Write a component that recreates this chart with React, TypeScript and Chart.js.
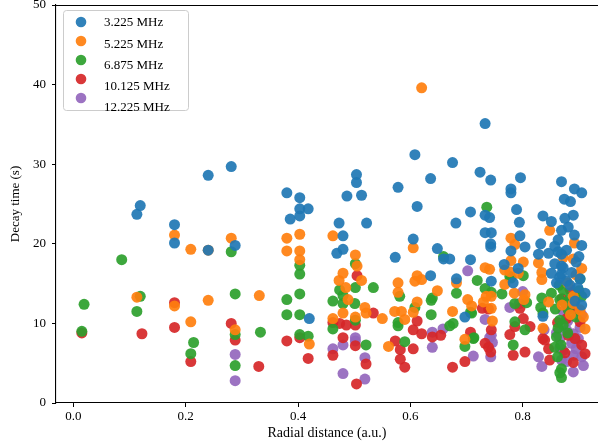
import React, { useEffect, useRef } from "react";
import { Chart, registerables } from "chart.js";

Chart.register(...registerables);

const seriesLabels = ["3.225 MHz", "5.225 MHz", "6.875 MHz", "10.125 MHz", "12.225 MHz"];
const seriesColors = [
  "rgba(31,119,180,0.92)",
  "rgba(255,127,14,0.92)",
  "rgba(44,160,44,0.92)",
  "rgba(214,39,40,0.92)",
  "rgba(148,103,189,0.92)",
];
const xTicks = [0, 0.2, 0.4, 0.6, 0.8];
const yTicks = [0, 10, 20, 30, 40, 50];

type P = [number, number];

const blue: P[] = [
  [0.113, 23.7], [0.119, 24.8], [0.18, 22.4], [0.18, 20.1], [0.24, 28.6], [0.281, 29.7], [0.288, 19.8], [0.24, 19.2],
  [0.38, 26.4], [0.403, 25.8], [0.403, 24.4], [0.418, 24.4], [0.386, 23.1], [0.403, 23.5], [0.42, 10.6],
  [0.473, 22.6], [0.48, 21.0], [0.48, 19.3], [0.469, 18.8],
  [0.487, 26.0], [0.504, 28.7], [0.504, 27.7], [0.513, 26.1], [0.522, 22.6],
  [0.578, 27.1], [0.608, 31.2], [0.612, 24.7], [0.636, 28.2], [0.605, 20.6], [0.573, 18.3], [0.636, 16.0],
  [0.648, 19.4], [0.659, 18.1], [0.67, 18.1], [0.675, 30.2], [0.681, 22.6], [0.682, 15.6], [0.697, 10.8],
  [0.707, 24.0], [0.707, 18.0], [0.724, 29.0], [0.733, 35.1], [0.733, 23.6], [0.741, 23.3], [0.733, 21.4], [0.744, 21.4],
  [0.743, 20.0], [0.743, 19.6], [0.743, 28.0], [0.744, 15.3],
  [0.767, 17.4], [0.779, 26.9], [0.779, 26.4], [0.779, 19.1], [0.789, 24.3], [0.794, 22.7], [0.795, 21.0], [0.796, 28.3],
  [0.804, 19.6], [0.792, 16.9], [0.783, 15.1],
  [0.828, 18.7], [0.832, 20.0], [0.836, 23.5], [0.836, 10.9], [0.846, 18.8], [0.851, 22.8], [0.851, 16.3], [0.857, 17.5],
  [0.863, 20.5], [0.863, 19.0], [0.869, 27.8], [0.869, 21.7], [0.869, 18.7], [0.869, 17.2], [0.869, 16.2], [0.874, 25.6],
  [0.875, 23.2], [0.881, 22.1], [0.885, 25.3], [0.887, 16.4], [0.89, 23.6], [0.892, 26.9], [0.892, 21.1], [0.905, 26.4],
  [0.905, 19.8], [0.902, 15.6], [0.911, 13.8],
  [0.866, 15.8], [0.878, 15.3], [0.872, 17.0], [0.86, 15.1], [0.884, 14.8], [0.895, 17.7], [0.9, 18.4], [0.878, 19.2],
  [0.857, 19.7], [0.893, 12.8], [0.905, 12.3], [0.898, 14.5],
];

const orange: P[] = [
  [0.113, 13.3], [0.18, 21.1], [0.18, 12.2], [0.209, 19.3], [0.24, 19.2], [0.24, 12.9], [0.281, 20.7], [0.288, 9.2],
  [0.209, 10.2], [0.331, 13.5],
  [0.38, 20.7], [0.403, 21.2], [0.38, 19.1], [0.403, 19.1], [0.403, 18.0], [0.42, 7.4],
  [0.462, 21.0], [0.462, 10.6], [0.473, 15.4], [0.48, 16.3], [0.485, 14.5], [0.489, 13.0], [0.502, 18.6], [0.505, 17.2],
  [0.513, 15.4], [0.502, 10.8], [0.48, 11.3], [0.519, 12.0], [0.521, 11.3], [0.55, 10.6], [0.561, 7.1],
  [0.578, 15.1], [0.578, 13.9], [0.572, 11.5], [0.584, 11.5], [0.59, 10.5], [0.605, 19.5], [0.612, 16.0], [0.608, 15.3],
  [0.62, 15.5], [0.612, 12.7], [0.605, 11.4], [0.62, 39.6],
  [0.648, 14.1], [0.682, 15.1], [0.675, 11.5], [0.697, 8.0], [0.702, 13.0], [0.709, 12.2], [0.73, 12.7], [0.733, 17.0],
  [0.741, 16.8], [0.735, 13.4], [0.744, 13.4], [0.744, 11.9], [0.746, 10.3],
  [0.768, 16.7], [0.777, 16.5], [0.768, 14.9], [0.779, 20.7], [0.786, 19.9], [0.779, 17.9], [0.785, 13.8], [0.792, 16.3],
  [0.801, 17.7], [0.802, 13.0], [0.804, 13.6],
  [0.828, 17.6], [0.834, 16.4], [0.834, 15.5], [0.846, 12.7], [0.848, 21.7], [0.836, 9.4],
  [0.872, 18.3], [0.89, 18.1], [0.892, 20.1], [0.905, 16.9], [0.89, 13.4], [0.89, 12.5], [0.902, 11.7], [0.908, 10.8],
  [0.911, 9.3], [0.88, 15.1], [0.895, 16.1], [0.87, 12.3], [0.885, 11.1],
];

const green: P[] = [
  [0.015, 9.0], [0.019, 12.4], [0.086, 18.0], [0.113, 11.5], [0.119, 13.4], [0.209, 6.2], [0.214, 7.6], [0.281, 19.0],
  [0.288, 13.7], [0.288, 8.6], [0.288, 4.7], [0.333, 8.9],
  [0.38, 13.0], [0.403, 13.7], [0.38, 11.1], [0.403, 11.1], [0.403, 17.3], [0.403, 16.2], [0.403, 8.6], [0.418, 8.4],
  [0.462, 12.8], [0.462, 9.3], [0.474, 14.2], [0.48, 13.5], [0.48, 12.5], [0.501, 12.5], [0.502, 14.5], [0.502, 17.5],
  [0.502, 10.4], [0.521, 7.3], [0.534, 14.5],
  [0.581, 13.4], [0.578, 10.1], [0.578, 9.7], [0.59, 7.7], [0.608, 12.0], [0.637, 12.9], [0.637, 11.1], [0.639, 13.2],
  [0.659, 18.4],
  [0.676, 10.0], [0.67, 9.7], [0.682, 13.8], [0.697, 7.1], [0.707, 11.4], [0.709, 11.3], [0.712, 8.1], [0.713, 8.2],
  [0.719, 15.4], [0.733, 14.4], [0.744, 13.9], [0.736, 24.6],
  [0.763, 13.7], [0.779, 15.7], [0.777, 15.9], [0.783, 7.3], [0.786, 12.5], [0.786, 10.2], [0.801, 16.0], [0.804, 9.2],
  [0.807, 12.6],
  [0.834, 13.2], [0.832, 12.0], [0.836, 11.3], [0.851, 13.8], [0.857, 7.0], [0.863, 9.4], [0.866, 10.4], [0.866, 13.0],
  [0.872, 14.2], [0.881, 11.7], [0.905, 13.4], [0.902, 15.6], [0.869, 4.3], [0.869, 3.2],
  [0.86, 8.3], [0.862, 5.8], [0.868, 7.3], [0.872, 9.8], [0.858, 11.8], [0.865, 14.8], [0.875, 12.6], [0.88, 8.8],
  [0.866, 3.8], [0.895, 10.8], [0.9, 14.1], [0.885, 13.3],
];

const red: P[] = [
  [0.015, 8.8], [0.122, 8.7], [0.18, 12.6], [0.18, 9.5], [0.209, 5.2], [0.281, 10.0], [0.288, 7.9], [0.33, 4.6],
  [0.38, 7.8], [0.403, 8.2], [0.418, 5.6],
  [0.462, 10.1], [0.462, 6.0], [0.474, 10.0], [0.486, 9.8], [0.502, 9.8], [0.48, 8.2], [0.502, 7.2], [0.505, 16.0],
  [0.521, 4.9], [0.504, 2.4], [0.534, 11.3],
  [0.573, 7.8], [0.582, 6.7], [0.582, 5.5], [0.59, 4.5], [0.612, 10.3], [0.605, 9.2], [0.62, 8.7], [0.605, 6.8],
  [0.639, 8.3], [0.654, 8.5], [0.675, 4.5], [0.697, 5.2], [0.707, 8.9], [0.728, 11.9], [0.739, 11.8], [0.744, 9.2],
  [0.733, 7.5], [0.739, 7.0], [0.743, 6.4],
  [0.777, 8.6], [0.786, 9.6], [0.795, 11.9], [0.801, 10.6], [0.813, 9.6], [0.783, 6.0], [0.804, 6.4],
  [0.836, 8.1], [0.846, 6.8], [0.848, 5.4], [0.839, 7.9],
  [0.884, 14.3], [0.878, 10.6], [0.902, 10.2], [0.893, 8.1], [0.881, 8.5], [0.911, 6.2], [0.89, 5.1], [0.87, 13.1],
  [0.895, 11.8], [0.862, 10.1], [0.905, 7.3], [0.875, 6.3],
];

const purple: P[] = [
  [0.288, 6.1], [0.288, 2.8],
  [0.462, 6.8], [0.48, 7.3], [0.48, 3.7], [0.502, 8.2], [0.502, 7.8], [0.519, 5.7], [0.519, 3.0],
  [0.639, 8.9], [0.658, 9.3], [0.639, 7.0], [0.702, 16.6], [0.712, 5.9], [0.733, 10.5], [0.744, 8.5], [0.741, 8.2],
  [0.746, 7.6], [0.743, 5.8],
  [0.777, 12.0], [0.794, 12.5], [0.8, 14.0], [0.828, 5.8], [0.834, 4.6], [0.838, 9.2],
  [0.872, 11.5], [0.878, 9.2], [0.902, 9.5], [0.89, 8.7], [0.866, 8.1], [0.872, 6.6], [0.866, 6.9], [0.887, 7.5],
  [0.899, 8.1], [0.89, 6.0], [0.905, 5.8], [0.869, 5.4], [0.878, 5.2], [0.908, 4.7], [0.89, 3.9],
  [0.88, 10.3], [0.895, 6.8], [0.86, 8.8], [0.885, 12.1], [0.905, 11.1],
];

const allSeries = [blue, orange, green, red, purple];

const FONT = "'Liberation Serif', 'Times New Roman', serif";

export default function App() {
  const ref = useRef<HTMLCanvasElement>(null);

  useEffect(() => {
    const topSpine = {
      id: "topSpine",
      afterDatasetsDraw(chart: any) {
        const { ctx, chartArea } = chart;
        ctx.save();
        ctx.strokeStyle = "#000";
        ctx.lineWidth = 1.1;
        ctx.beginPath();
        ctx.moveTo(chartArea.left, chartArea.top + 0.5);
        ctx.lineTo(chartArea.right, chartArea.top + 0.5);
        ctx.stroke();
        ctx.restore();
      },
    };

    const legendBox = {
      id: "legendBox",
      afterDraw(chart: any) {
        const ctx = chart.ctx as CanvasRenderingContext2D;
        ctx.save();
        const bx = 63.5, by = 10.5, bw = 125, bh = 100, r = 3;
        ctx.beginPath();
        ctx.moveTo(bx + r, by);
        ctx.lineTo(bx + bw - r, by);
        ctx.quadraticCurveTo(bx + bw, by, bx + bw, by + r);
        ctx.lineTo(bx + bw, by + bh - r);
        ctx.quadraticCurveTo(bx + bw, by + bh, bx + bw - r, by + bh);
        ctx.lineTo(bx + r, by + bh);
        ctx.quadraticCurveTo(bx, by + bh, bx, by + bh - r);
        ctx.lineTo(bx, by + r);
        ctx.quadraticCurveTo(bx, by, bx + r, by);
        ctx.closePath();
        ctx.fillStyle = "rgba(255,255,255,0.8)";
        ctx.fill();
        ctx.strokeStyle = "#cccccc";
        ctx.lineWidth = 1;
        ctx.stroke();
        ctx.font = `13px ${FONT}`;
        ctx.textBaseline = "middle";
        ctx.textAlign = "left";
        seriesLabels.forEach((lab, i) => {
          ctx.beginPath();
          ctx.arc(81, 22 + 19 * i, 5.3, 0, Math.PI * 2);
          ctx.fillStyle = seriesColors[i];
          ctx.fill();
          ctx.fillStyle = "#000";
          ctx.fillText(lab, 104, 23 + 21.25 * i);
        });
        ctx.restore();
      },
    };

    const chart = new Chart(ref.current!, {
      type: "scatter",
      data: {
        datasets: allSeries.map((pts, i) => ({
          label: seriesLabels[i],
          data: pts.map(([x, y]) => ({ x, y })),
          backgroundColor: seriesColors[i],
          borderWidth: 0,
          pointRadius: 5.5,
          pointHoverRadius: 5.5,
        })),
      },
      options: {
        animation: false,
        responsive: false,
        events: [],
        layout: { autoPadding: false, padding: { top: 5, left: 0, right: 0, bottom: 0 } },
        plugins: { legend: { display: false }, tooltip: { enabled: false } },
        scales: {
          x: {
            type: "linear",
            min: -0.031,
            max: 0.934,
            afterBuildTicks: (s: any) => {
              s.ticks = xTicks.map((v) => ({ value: v }));
            },
            afterFit: (s: any) => {
              s.height = 44;
              s.paddingLeft = 0;
              s.paddingRight = 0;
            },
            grid: { drawOnChartArea: false, drawTicks: true, tickLength: 4, color: "#000", lineWidth: 1 },
            border: { color: "#000", width: 1.1 },
            ticks: {
              font: { family: FONT, size: 13 },
              color: "#000",
              padding: 2,
              maxRotation: 0,
              autoSkip: false,
              callback: (v: any) => Number(v).toFixed(1),
            },
            title: {
              display: true,
              text: "Radial distance (a.u.)",
              font: { family: FONT, size: 14 },
              color: "#000",
              padding: { top: 0, bottom: 5 },
            },
          },
          y: {
            type: "linear",
            min: 0,
            max: 50,
            afterBuildTicks: (s: any) => {
              s.ticks = yTicks.map((v) => ({ value: v }));
            },
            afterFit: (s: any) => {
              s.width = 56;
              s.paddingTop = 0;
              s.paddingBottom = 0;
            },
            grid: { drawOnChartArea: false, drawTicks: true, tickLength: 4, color: "#000", lineWidth: 1 },
            border: { color: "#000", width: 1.1 },
            ticks: {
              font: { family: FONT, size: 13 },
              color: "#000",
              padding: 6,
              autoSkip: false,
              callback: (v: any) => String(v),
            },
            title: {
              display: true,
              text: "Decay time (s)",
              font: { family: FONT, size: 13 },
              color: "#000",
              padding: { top: 8, bottom: 0 },
            },
          },
        },
      },
      plugins: [topSpine, legendBox],
    });
    return () => chart.destroy();
  }, []);

  return (
    <div style={{ position: "fixed", left: 0, top: 0, width: 598, height: 447, background: "#fff" }}>
      <canvas ref={ref} width={598} height={447} style={{ width: 598, height: 447, display: "block" }} />
    </div>
  );
}
